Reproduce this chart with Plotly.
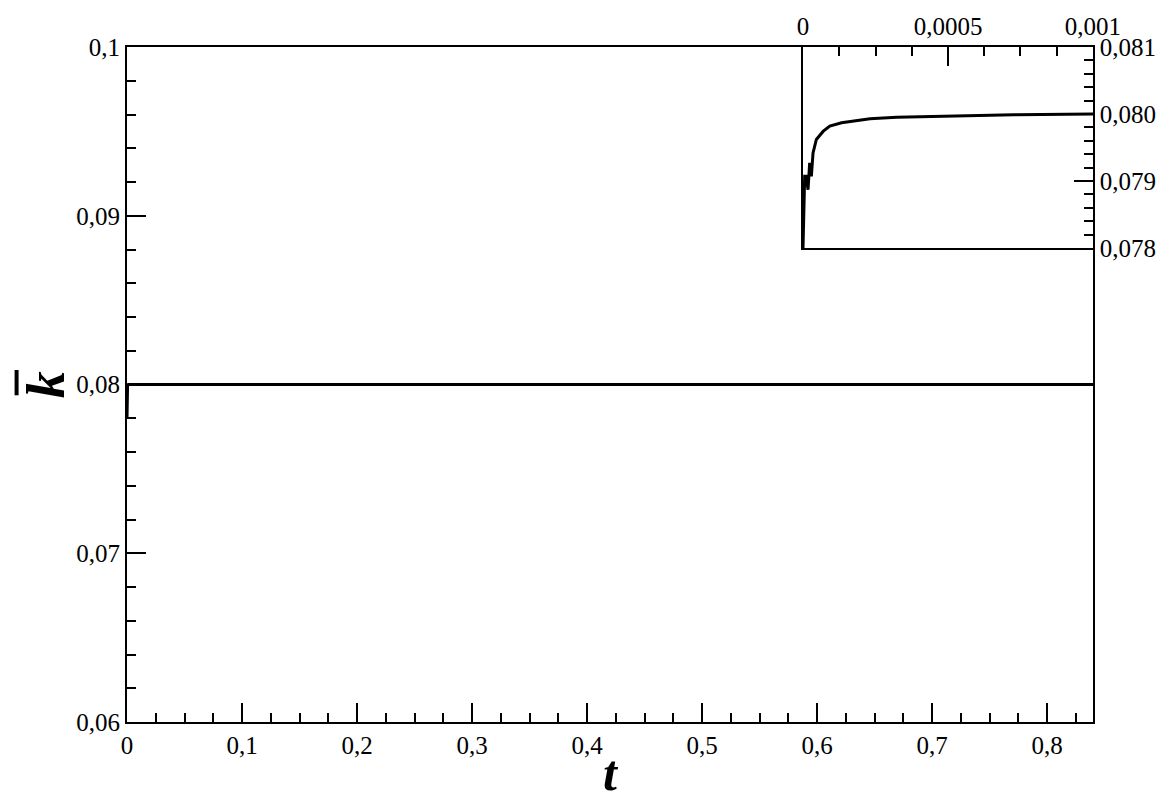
import plotly.graph_objects as go

# Inset (early-time) data
t_early = [0.0, 0.000003, 0.0000058, 0.000011, 0.0000173, 0.000023, 0.0000288,
           0.0000346, 0.000046, 0.0000692, 0.0000923, 0.000133, 0.000231,
           0.000323, 0.000496, 0.000727, 0.001]
k_early = [0.0780, 0.0786, 0.07907, 0.07907, 0.07887, 0.07927, 0.07907,
           0.07942, 0.07962, 0.07974, 0.07982, 0.07987, 0.07993,
           0.07995, 0.07997, 0.07999, 0.08000]

# Later-time data (flat)
t_late = [0.01, 0.1, 0.2, 0.3, 0.4, 0.5, 0.6, 0.7, 0.8, 0.84]
k_late = [0.0800, 0.0800, 0.0800, 0.0800, 0.0800, 0.0800, 0.0800, 0.0800, 0.0800, 0.0800]

t_all = t_early + t_late
k_all = k_early + k_late

x_ticks = [0, 0.1, 0.2, 0.3, 0.4, 0.5, 0.6, 0.7, 0.8]
x_labels = ["0", "0,1", "0,2", "0,3", "0,4", "0,5", "0,6", "0,7", "0,8"]
y_ticks = [0.06, 0.07, 0.08, 0.09, 0.1]
y_labels = ["0,06", "0,07", "0,08", "0,09", "0,1"]
x2_ticks = [0, 0.0005, 0.001]
x2_labels = ["0", "0,0005", "0,001"]
y2_ticks = [0.078, 0.079, 0.080, 0.081]
y2_labels = ["0,078", "0,079", "0,080", "0,081"]

FONT = "Liberation Serif, Times New Roman, serif"
tickfont = dict(family=FONT, size=25, color="black")

fig = go.Figure()
fig.add_trace(go.Scatter(x=t_all, y=k_all, mode="lines",
                         line=dict(color="black", width=3),
                         xaxis="x", yaxis="y", showlegend=False))
fig.add_trace(go.Scatter(x=t_early, y=k_early, mode="lines",
                         line=dict(color="black", width=3),
                         xaxis="x2", yaxis="y2", showlegend=False))

fig.update_layout(
    width=1161, height=793,
    margin=dict(l=119, r=76, t=39, b=79, autoexpand=False),
    paper_bgcolor="white", plot_bgcolor="white",
    showlegend=False,
    xaxis=dict(domain=[0, 1], range=[0, 0.84], showgrid=False, zeroline=False,
               automargin=False,
               showline=True, linecolor="black", linewidth=2, mirror=True,
               tickmode="array", tickvals=x_ticks, ticktext=x_labels,
               ticks="inside", ticklen=19, tickwidth=2, tickcolor="black",
               minor=dict(tickmode="linear", tick0=0, dtick=0.025, ticks="inside",
                          ticklen=9, tickwidth=2, tickcolor="black", showgrid=False),
               tickfont=tickfont,
               title=dict(text="<b><i>t</i></b>", font=dict(family=FONT, size=50, color="black"),
                          standoff=0)),
    yaxis=dict(domain=[0, 1], range=[0.06, 0.1], showgrid=False, zeroline=False,
               automargin=False,
               showline=True, linecolor="black", linewidth=2, mirror=True,
               tickmode="array", tickvals=y_ticks, ticktext=y_labels,
               ticks="inside", ticklen=19, tickwidth=2, tickcolor="black",
               minor=dict(tickmode="linear", tick0=0.06, dtick=0.002, ticks="inside",
                          ticklen=9, tickwidth=2, tickcolor="black", showgrid=False),
               tickfont=tickfont),
    xaxis2=dict(domain=[0.6998, 1], anchor="y2", side="top", range=[0, 0.001],
                showgrid=False, zeroline=False, automargin=False,
                showline=True, linecolor="black", linewidth=1.5, mirror=True,
                tickmode="array", tickvals=x2_ticks, ticktext=x2_labels,
                ticks="inside", ticklen=19, tickwidth=2, tickcolor="black",
                minor=dict(tickmode="linear", tick0=0, dtick=0.000125, ticks="inside",
                           ticklen=9, tickwidth=2, tickcolor="black", showgrid=False),
                tickfont=tickfont),
    yaxis2=dict(domain=[0.7022, 1], anchor="x2", side="right", range=[0.078, 0.081],
                showgrid=False, zeroline=False, automargin=False,
                showline=True, linecolor="black", linewidth=1.5, mirror=True,
                tickmode="array", tickvals=y2_ticks, ticktext=y2_labels,
                ticks="inside", ticklen=19, tickwidth=2, tickcolor="black",
                minor=dict(tickmode="linear", tick0=0.078, dtick=0.0002, ticks="inside",
                           ticklen=9, tickwidth=2, tickcolor="black", showgrid=False),
                tickfont=tickfont),
)

# y-axis label: bold italic k with an overbar (rotated)
fig.add_annotation(xref="paper", yref="paper", x=-0.084, y=0.5, text="<b><i>k</i></b>",
                   textangle=-90, showarrow=False,
                   font=dict(family=FONT, size=54, color="black"),
                   xanchor="center", yanchor="middle")
fig.add_shape(type="line", xref="paper", yref="paper",
              x0=-0.1143, x1=-0.1143, y0=0.484, y1=0.5215,
              line=dict(color="black", width=4))

fig.write_html("out.html")
